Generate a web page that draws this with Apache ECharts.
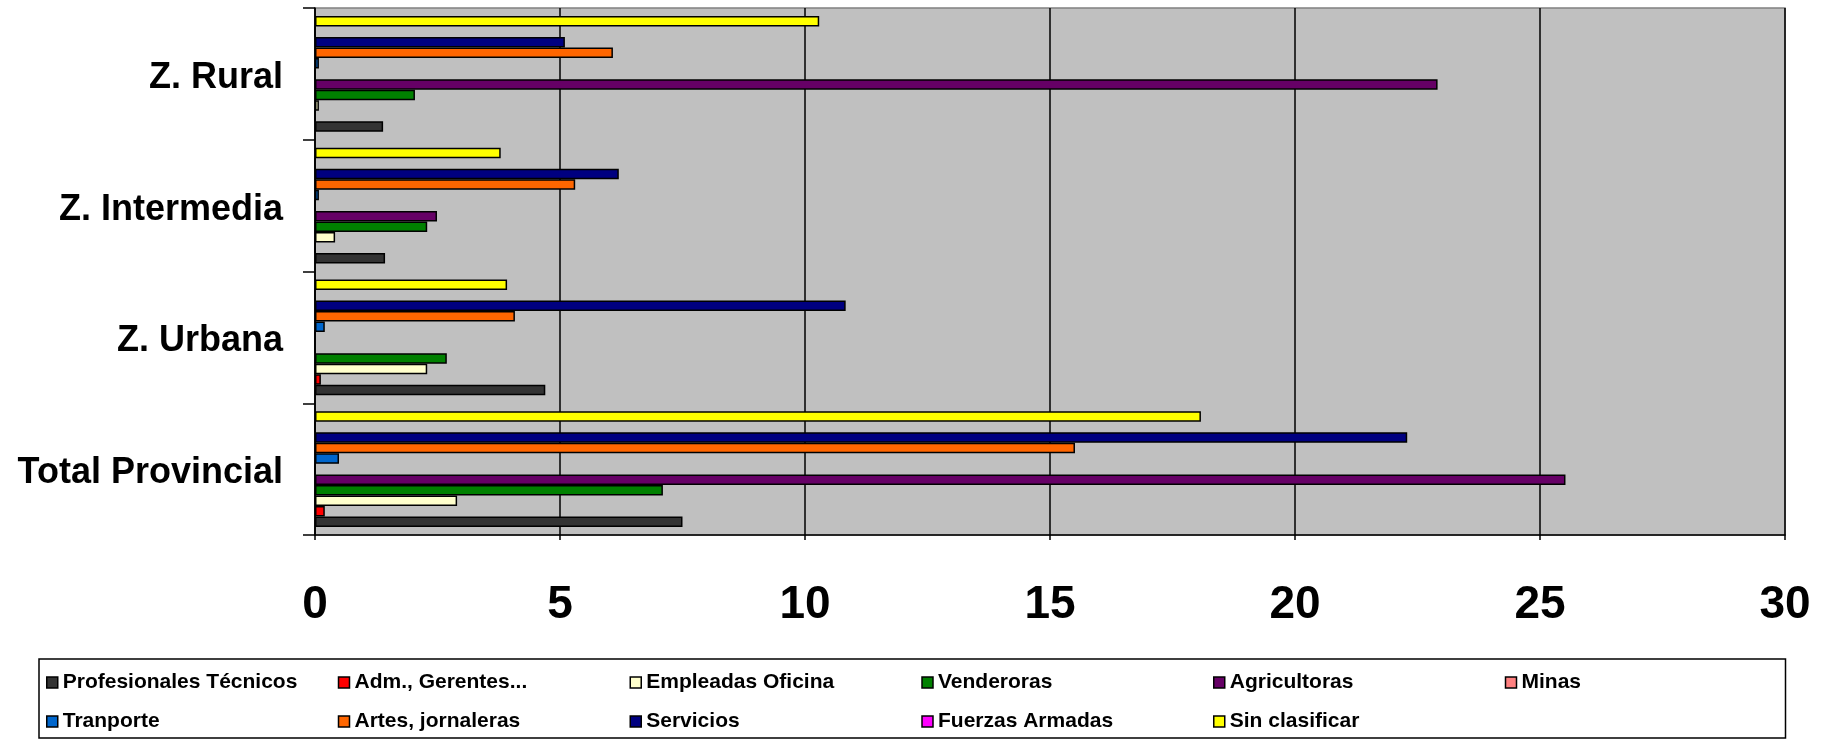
<!DOCTYPE html>
<html>
<head>
<meta charset="utf-8">
<script src="https://cdn.jsdelivr.net/npm/echarts/dist/echarts.min.js"></script>
<style>
html,body{margin:0;padding:0;background:#fff;}
#chart{width:1831px;height:739px;}
</style>
</head>
<body>
<div id="chart"></div>
<script>
// ---- data ----
const categories = ['Total Provincial', 'Z. Urbana', 'Z. Intermedia', 'Z. Rural'];
const xTicks = [0, 5, 10, 15, 20, 25, 30];

const seriesNames = ['Profesionales Técnicos', 'Adm., Gerentes...', 'Empleadas Oficina', 'Venderoras',
  'Agricultoras', 'Minas', 'Tranporte', 'Artes, jornaleras', 'Servicios', 'Fuerzas Armadas', 'Sin clasificar'];

const profesionales = [7.5, 4.7, 1.43, 1.39];
const administrativas = [0.2, 0.12, 0, 0];
const empleadas = [2.9, 2.29, 0.41, 0.08];
const vendedoras = [7.1, 2.69, 2.29, 2.04];
const agricultoras = [25.52, 0, 2.49, 22.91];
const minas = [0, 0, 0, 0];
const transporte = [0.49, 0.2, 0.08, 0.08];
const artes = [15.51, 4.08, 5.31, 6.08];
const servicios = [22.29, 10.83, 6.2, 5.1];
const fuerzas = [0, 0, 0, 0];
const sinClasificar = [18.08, 3.92, 3.79, 10.29];

const seriesValues = [profesionales, administrativas, empleadas, vendedoras, agricultoras, minas,
  transporte, artes, servicios, fuerzas, sinClasificar];
const seriesColors = ['#333333', '#FF0000', '#FFFFCC', '#008000', '#660066', '#FF8080',
  '#0066CC', '#FF6600', '#000080', '#FF00FF', '#FFFF00'];

// ---- chart ----
const chart = echarts.init(document.getElementById('chart'), null, {renderer: 'canvas'});
const FONT = 'Liberation Sans, Arial, Helvetica, sans-serif';

const series = seriesNames.map((name, i) => ({
  name: name,
  type: 'bar',
  data: seriesValues[i],
  barGap: '0%',
  barCategoryGap: '12%',
  itemStyle: {color: seriesColors[i], borderColor: '#000', borderWidth: 1.5},
  emphasis: {disabled: true},
  animation: false
}));
// first ECharts series is drawn at the top of each band: reverse so Profesionales sits at the bottom
series.reverse();

chart.setOption({
  backgroundColor: '#ffffff',
  animation: false,
  grid: {
    left: 315, right: 46, top: 8, bottom: 204,
    show: true, backgroundColor: '#C0C0C0', borderColor: '#808080', borderWidth: 1.5,
    containLabel: false, outerBoundsMode: 'none'
  },
  xAxis: {
    type: 'value', min: 0, max: 30, interval: 5,
    axisLine: {show: true, lineStyle: {color: '#000', width: 1.5}},
    axisTick: {show: true, length: 5, lineStyle: {color: '#000', width: 1.5}},
    splitLine: {show: true, lineStyle: {color: '#000', width: 1.5}},
    axisLabel: {
      fontFamily: FONT, fontSize: 46, fontWeight: 'bold', color: '#000', margin: 47,
      formatter: v => (xTicks.indexOf(v) >= 0 ? String(v) : '')
    }
  },
  yAxis: {
    type: 'category', data: categories,
    axisLine: {show: true, lineStyle: {color: '#000', width: 1.5}},
    axisTick: {show: true, length: 12, lineStyle: {color: '#000', width: 1.5}},
    splitLine: {show: false},
    axisLabel: {
      margin: 32,
      formatter: v => '{c|' + v + '}',
      rich: {c: {fontFamily: FONT, fontSize: 36, fontWeight: 'bold', color: '#000',
        lineHeight: 36, padding: [8, 0, 0, 0]}}
    }
  },
  legend: {
    data: seriesNames,
    left: 39, top: 659, width: 1760,
    orient: 'horizontal',
    padding: [13, 7, 6, 7],
    itemGap: 18,
    itemWidth: 11, itemHeight: 11,
    icon: 'rect',
    borderColor: '#000', borderWidth: 1.5, backgroundColor: '#fff',
    itemStyle: {borderColor: '#000', borderWidth: 1.5},
    textStyle: {fontFamily: FONT, fontSize: 21, fontWeight: 'bold', color: '#000',
      width: 257, lineHeight: 20, overflow: 'none', padding: 0},
    selectedMode: false
  },
  tooltip: {show: false},
  series: series
});
</script>
</body>
</html>
